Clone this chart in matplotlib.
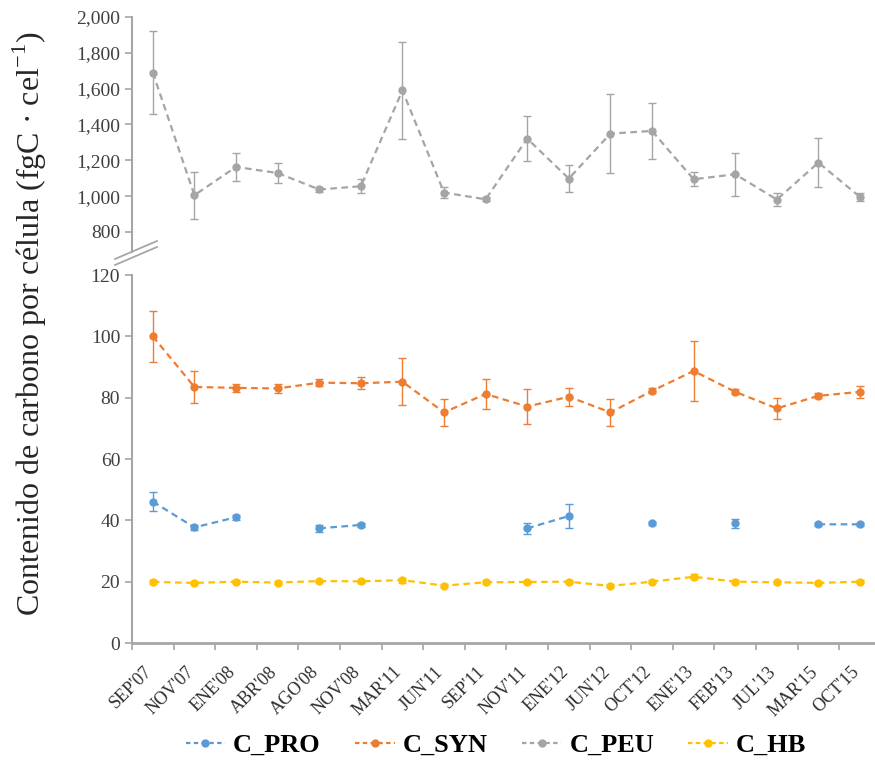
import numpy as np
import matplotlib
matplotlib.use("Agg")
import matplotlib.pyplot as plt
from matplotlib.lines import Line2D
from matplotlib.transforms import ScaledTranslation

categories = ["SEP'07", "NOV'07", "ENE'08", "ABR'08", "AGO'08", "NOV'08", "MAR'11", "JUN'11",
              "SEP'11", "NOV'11", "ENE'12", "JUN'12", "OCT'12", "ENE'13", "FEB'13", "JUL'13",
              "MAR'15", "OCT'15"]

nan = np.nan
c_peu = [1690, 1005, 1163, 1129, 1037, 1055, 1590, 1020, 982, 1321, 1098, 1349, 1364, 1094, 1122, 981, 1187, 995]
c_peu_err = [230, 130, 80, 55, 12, 40, 270, 30, 12, 125, 77, 220, 157, 40, 120, 35, 135, 25]

c_syn = [100, 83.5, 83.2, 83.0, 84.9, 84.7, 85.2, 75.2, 81.2, 77.1, 80.3, 75.2, 82.2, 88.7, 81.9, 76.5, 80.6, 81.9]
c_syn_err = [8.3, 5.3, 1.2, 1.5, 1.2, 2.0, 7.6, 4.3, 4.9, 5.8, 3.0, 4.5, 0.8, 9.8, 0.8, 3.4, 0.8, 1.9]

c_pro = [46.1, 37.7, 41.0, nan, 37.4, 38.5, nan, nan, nan, 37.4, 41.4, nan, 39.0, nan, 39.0, nan, 38.7, 38.7]
c_pro_err = [3.0, 0.8, 0.8, nan, 1.2, 0.6, nan, nan, nan, 1.8, 4.0, nan, 0.5, nan, 1.5, nan, 0.5, 0.5]

c_hb = [19.9, 19.6, 20.0, 19.7, 20.2, 20.1, 20.5, 18.7, 19.8, 19.9, 20.0, 18.6, 20.0, 21.6, 20.0, 19.8, 19.6, 20.0]
c_hb_err = [0.5, 0.4, 0.4, 0.4, 0.4, 0.4, 0.8, 0.5, 0.4, 0.4, 0.4, 0.5, 0.4, 0.8, 0.4, 0.4, 0.4, 0.4]

series_names = ["C_PRO", "C_SYN", "C_PEU", "C_HB"]
colors = {"C_PRO": "#5B9BD5", "C_SYN": "#ED7D31", "C_PEU": "#A5A5A5", "C_HB": "#FFC000"}

plt.rcParams['font.family'] = ['Liberation Serif', 'DejaVu Serif']

W, H = 875, 764
fig = plt.figure(figsize=(W / 100, H / 100), dpi=100)

left = 132 / W
right = 1.0
ax_top = fig.add_axes([left, (H - 252) / H, right - left, (252 - 17) / H])
ax_bot = fig.add_axes([left, (H - 643) / H, right - left, (643 - 275) / H])

x = np.arange(len(categories))
spine_col = "#A6A6A6"
tick_col = "#404040"

def draw(ax, vals, errs, name):
    c = colors[name]
    v = np.array(vals, dtype=float)
    e = np.array(errs, dtype=float)
    ax.errorbar(x, v, yerr=e, fmt='none', ecolor=c, elinewidth=1.0, capsize=3, capthick=1.0, zorder=2)
    ax.plot(x, v, linestyle=(0, (3, 2)), color=c, linewidth=1.6, marker='o', markersize=5,
            markerfacecolor=c, markeredgecolor=c, zorder=3)

draw(ax_top, c_peu, c_peu_err, "C_PEU")
draw(ax_bot, c_syn, c_syn_err, "C_SYN")
draw(ax_bot, c_pro, c_pro_err, "C_PRO")
draw(ax_bot, c_hb, c_hb_err, "C_HB")

xlim = (-0.5, 17.36)
for ax in (ax_top, ax_bot):
    ax.set_xlim(*xlim)
    ax.spines['top'].set_visible(False)
    ax.spines['right'].set_visible(False)
    ax.spines['left'].set_color(spine_col)
    ax.spines['left'].set_linewidth(1.5)
    ax.tick_params(axis='y', colors=spine_col, labelcolor=tick_col, labelsize=14, length=5, width=1.2, direction='out')
    ax.set_facecolor('none')

# top panel
ax_top.set_ylim(688, 2000)
ax_top.set_yticks(np.arange(800, 2001, 200))
ax_top.set_yticklabels([f"{v:,}" for v in range(800, 2001, 200)])
ax_top.spines['bottom'].set_visible(False)
ax_top.set_xticks([])

# bottom panel
ax_bot.set_ylim(0, 120)
ax_bot.set_yticks(np.arange(0, 121, 20))
ax_bot.spines['bottom'].set_color(spine_col)
ax_bot.spines['bottom'].set_linewidth(2.0)
ax_bot.set_xticks(x)
ax_bot.set_xticklabels(categories, rotation=45, ha='right', va='center', rotation_mode='anchor',
                       fontsize=13, color='#303030')
ax_bot.tick_params(axis='x', length=0, pad=19)
shift = ScaledTranslation(-3 / 100, 0, fig.dpi_scale_trans)
for lbl in ax_bot.get_xticklabels():
    lbl.set_transform(lbl.get_transform() + shift)
ax_bot.set_xticks(np.arange(-0.5, 17.5, 1.0), minor=True)
ax_bot.tick_params(axis='x', which='minor', length=5, width=1.2, colors=spine_col, direction='out')

# axis break marks
for dy in (0, 6):
    fig.add_artist(Line2D([115 / W, 157 / W], [(H - 265 + dy) / H, (H - 247 + dy) / H],
                          color=spine_col, linewidth=1.3, transform=fig.transFigure))

fig.text(30 / W, (H - 324) / H, "Contenido de carbono por célula (fgC · cel$^{\\mathregular{-1}}$)",
         rotation=90, ha='center', va='center', fontsize=23, color='#262626')

handles = [Line2D([0], [0], color=colors[n], linestyle=(0, (2, 1.5)), linewidth=1.6, marker='o',
                  markersize=5) for n in series_names]
fig.legend(handles, series_names, loc='center', bbox_to_anchor=(496 / W, 1 - 745 / H), ncol=4,
           frameon=False, prop={'weight': 'bold', 'size': 19}, handlelength=1.5, handletextpad=0.3,
           columnspacing=1.3)

fig.savefig("out.png", dpi=100)
